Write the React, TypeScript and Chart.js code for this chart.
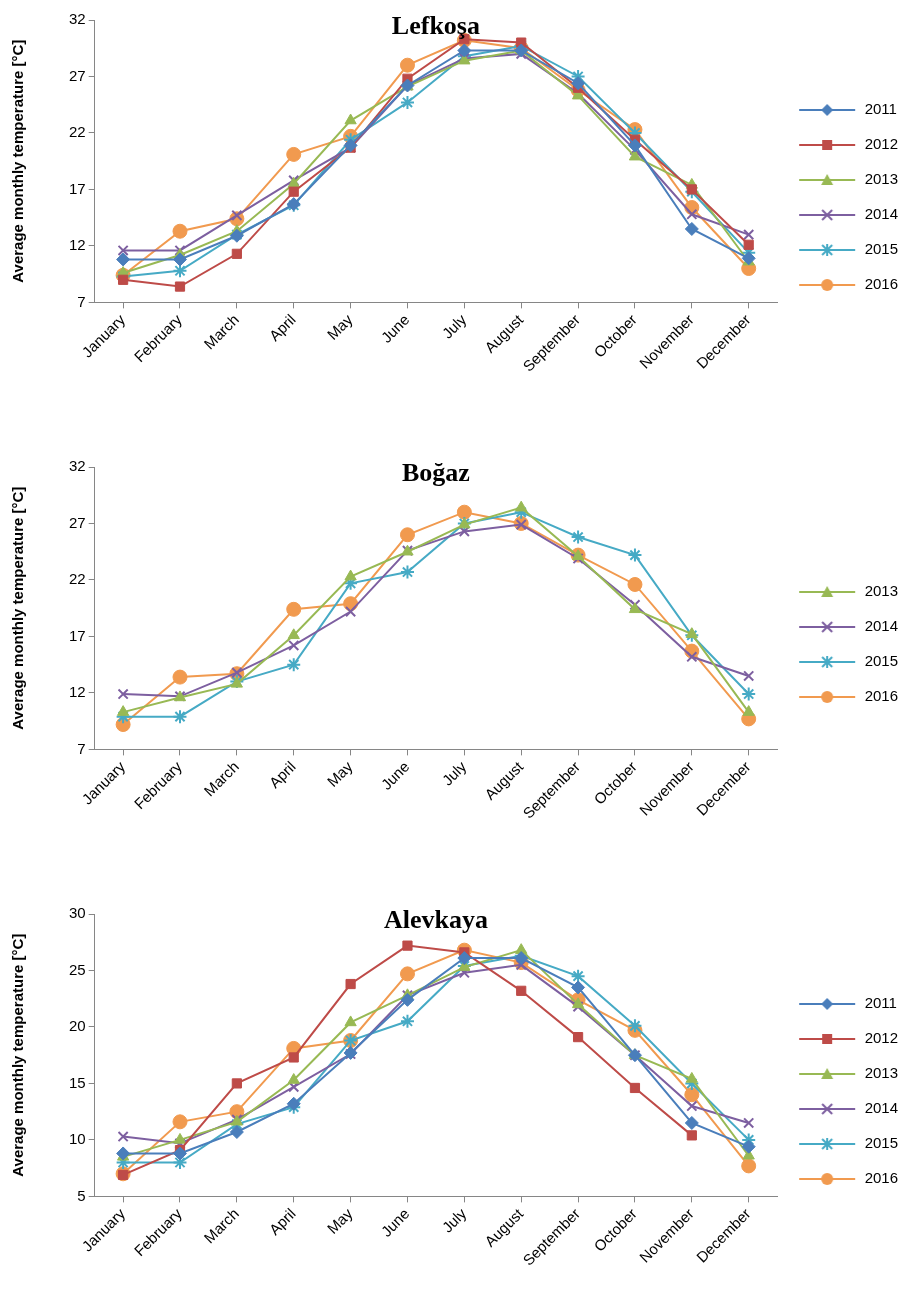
import { useEffect, useRef } from "react"
import { Chart, registerables } from "chart.js"

Chart.register(...registerables)

const months = ["January", "February", "March", "April", "May", "June", "July", "August", "September", "October", "November", "December"]

const years = ["2011", "2012", "2013", "2014", "2015", "2016"]
const colors = ["#4a7ebb", "#be4b48", "#98b954", "#7d5fa0", "#46aac5", "#f19a4f"]
const markers = ["rectRot", "rect", "triangle", "crossRot", "star", "circle"]

// Lefkoşa
const lef2011 = [10.8, 10.8, 12.9, 15.7, 20.9, 26.2, 29.3, 29.3, 26.4, 20.9, 13.5, 10.9]
const lef2012 = [9.0, 8.4, 11.3, 16.8, 20.7, 26.8, 30.3, 30.0, 26.0, 21.4, 17.0, 12.1]
const lef2013 = [9.6, 11.2, 13.3, 17.5, 23.1, 26.1, 28.4, 29.3, 25.3, 19.9, 17.4, 10.6]
const lef2014 = [11.6, 11.6, 14.7, 17.8, 20.7, 26.2, 28.6, 29.0, 25.5, 20.5, 14.8, 13.0]
const lef2015 = [9.3, 9.8, 13.0, 15.6, 21.4, 24.7, 28.8, 29.7, 27.0, 22.0, 16.8, 11.4]
const lef2016 = [9.4, 13.3, 14.4, 20.1, 21.7, 28.0, 30.2, 29.5, 25.8, 22.3, 15.4, 10.0]

// Boğaz
const bog2013 = [10.3, 11.6, 12.8, 17.1, 22.3, 24.5, 26.9, 28.4, 24.1, 19.4, 17.2, 10.3]
const bog2014 = [11.9, 11.7, 13.8, 16.2, 19.2, 24.6, 26.3, 26.9, 23.9, 19.8, 15.2, 13.5]
const bog2015 = [9.9, 9.9, 13.0, 14.5, 21.7, 22.7, 27.0, 28.0, 25.8, 24.2, 17.1, 11.9]
const bog2016 = [9.2, 13.4, 13.7, 19.4, 19.9, 26.0, 28.0, 27.0, 24.2, 21.6, 15.7, 9.7]

// Alevkaya
const ale2011 = [8.8, 8.8, 10.7, 13.2, 17.7, 22.4, 26.1, 26.1, 23.5, 17.5, 11.5, 9.4]
const ale2012 = [6.9, 9.1, 15.0, 17.3, 23.8, 27.2, 26.6, 23.2, 19.1, 14.6, 10.4, null]
const ale2013 = [8.5, 10.0, 11.6, 15.3, 20.4, 22.8, 25.3, 26.8, 22.0, 17.5, 15.4, 8.6]
const ale2014 = [10.3, 9.7, 11.8, 14.7, 17.6, 22.8, 24.8, 25.5, 21.8, 17.5, 13.0, 11.5]
const ale2015 = [8.0, 8.0, 11.4, 12.9, 18.8, 20.5, 25.4, 26.3, 24.5, 20.1, 15.0, 10.0]
const ale2016 = [7.0, 11.6, 12.5, 18.1, 18.8, 24.7, 26.8, 25.7, 22.4, 19.7, 14.0, 7.7]

const font = "'Liberation Sans', Arial, sans-serif"

function legendIcon(i: number) {
  const c = document.createElement("canvas")
  c.width = 60
  c.height = 16
  const ctx = c.getContext("2d")!
  ctx.strokeStyle = colors[i]
  ctx.lineWidth = 2
  ctx.beginPath()
  ctx.moveTo(2, 8)
  ctx.lineTo(58, 8)
  ctx.stroke()
  const style = markers[i]
  ctx.fillStyle = colors[i]
  const r = 6
  ctx.beginPath()
  if (style === "rectRot") {
    ctx.moveTo(30, 8 - r); ctx.lineTo(30 + r, 8); ctx.lineTo(30, 8 + r); ctx.lineTo(30 - r, 8); ctx.closePath(); ctx.fill()
  } else if (style === "rect") {
    ctx.fillRect(25, 3, 10, 10)
  } else if (style === "triangle") {
    ctx.moveTo(30, 2); ctx.lineTo(36, 13); ctx.lineTo(24, 13); ctx.closePath(); ctx.fill()
  } else if (style === "crossRot") {
    ctx.moveTo(25, 3); ctx.lineTo(35, 13); ctx.moveTo(35, 3); ctx.lineTo(25, 13); ctx.stroke()
  } else if (style === "star") {
    ctx.moveTo(25, 3); ctx.lineTo(35, 13); ctx.moveTo(35, 3); ctx.lineTo(25, 13)
    ctx.moveTo(30, 2); ctx.lineTo(30, 14); ctx.stroke()
  } else {
    ctx.arc(30, 8, 6, 0, Math.PI * 2); ctx.fill()
  }
  return c
}

interface PanelProps {
  title: string
  series: (number | null)[][]
  yearIdx: number[]
  min: number
  max: number
}

function Panel({ title, series, yearIdx, min, max }: PanelProps) {
  const ref = useRef<HTMLCanvasElement>(null)

  useEffect(() => {
    if (!ref.current) return
    const titlePlugin = {
      id: "inlineTitle",
      afterDraw(chart: Chart) {
        const { ctx, chartArea } = chart
        ctx.save()
        ctx.font = "bold 26px 'Liberation Serif', 'Times New Roman', serif"
        ctx.fillStyle = "#000"
        ctx.textAlign = "center"
        ctx.textBaseline = "top"
        ctx.fillText(title, (chartArea.left + chartArea.right) / 2, chartArea.top - 6)
        ctx.restore()
      },
    }
    const chart = new Chart(ref.current, {
      type: "line",
      data: {
        labels: months,
        datasets: series.map((d, k) => {
          const i = yearIdx[k]
          return {
            label: years[i],
            data: d,
            borderColor: colors[i],
            backgroundColor: colors[i],
            borderWidth: 2,
            pointStyle: markers[i] as any,
            pointRadius: markers[i] === "circle" ? 7 : 6.5,
            pointBorderWidth: markers[i] === "crossRot" || markers[i] === "star" ? 2 : 1,
            tension: 0,
          }
        }),
      },
      options: {
        animation: false,
        responsive: true,
        maintainAspectRatio: false,
        layout: { padding: { top: 8, bottom: 76, left: 0, right: 0 } },
        plugins: {
          tooltip: { enabled: false },
          legend: {
            position: "right",
            labels: {
              usePointStyle: true,
              pointStyleWidth: 60,
              padding: 20,
              color: "#000",
              font: { family: font, size: 15 },
              generateLabels: (c: Chart) =>
                c.data.datasets.map((ds, k) => ({
                  text: ds.label as string,
                  pointStyle: legendIcon(yearIdx[k]),
                  fillStyle: colors[yearIdx[k]],
                  strokeStyle: colors[yearIdx[k]],
                  lineWidth: 0,
                  hidden: false,
                  datasetIndex: k,
                  fontColor: "#000",
                })),
            },
          },
        },
        scales: {
          x: {
            offset: true,
            grid: { drawOnChartArea: false, drawTicks: true, tickLength: 6, color: "#868686" },
            border: { color: "#868686" },
            ticks: { color: "#000", font: { family: font, size: 15 }, maxRotation: 45, minRotation: 45, autoSkip: false },
          },
          y: {
            min,
            max,
            grid: { drawOnChartArea: false, drawTicks: true, tickLength: 6, color: "#868686" },
            border: { color: "#868686" },
            ticks: { stepSize: 5, color: "#000", font: { family: font, size: 15 } },
            title: {
              display: true,
              text: "Average monthly temperature [°C]",
              color: "#000",
              font: { family: font, size: 15, weight: "bold" },
              padding: { top: 2, bottom: 38 },
            },
          },
        },
      },
      plugins: [titlePlugin],
    })
    return () => chart.destroy()
  }, [title, series, yearIdx, min, max])

  return (
    <div style={{ height: 447, width: "100%", position: "relative" }}>
      <canvas ref={ref} />
    </div>
  )
}

export default function App() {
  return (
    <div style={{ width: 900 }}>
      <Panel title="Lefkoşa" series={[lef2011, lef2012, lef2013, lef2014, lef2015, lef2016]} yearIdx={[0, 1, 2, 3, 4, 5]} min={7} max={32} />
      <Panel title="Boğaz" series={[bog2013, bog2014, bog2015, bog2016]} yearIdx={[2, 3, 4, 5]} min={7} max={32} />
      <Panel title="Alevkaya" series={[ale2011, ale2012, ale2013, ale2014, ale2015, ale2016]} yearIdx={[0, 1, 2, 3, 4, 5]} min={5} max={30} />
    </div>
  )
}
